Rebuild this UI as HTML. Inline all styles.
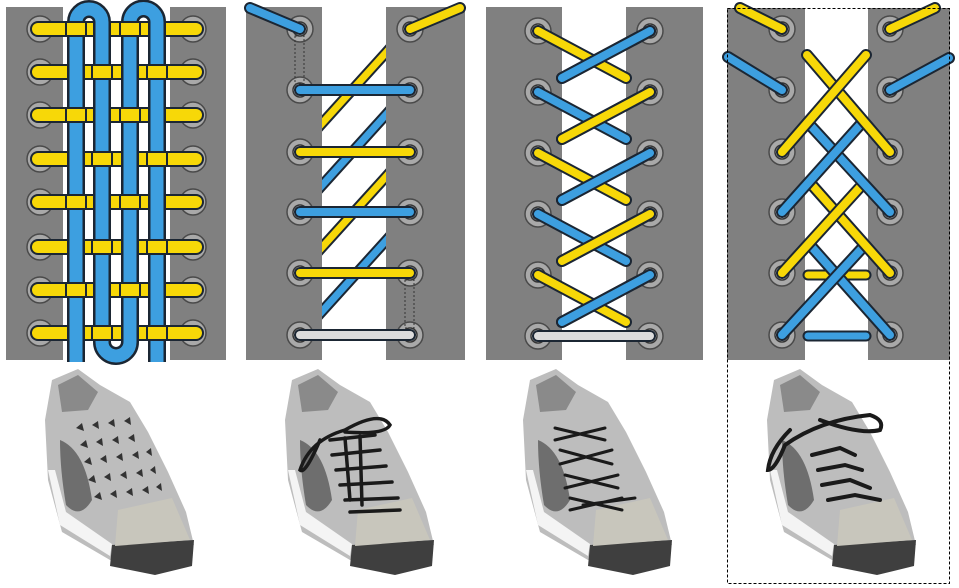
<!DOCTYPE html>
<html><head><meta charset="utf-8"><style>
html,body{margin:0;padding:0;background:#fff;width:959px;height:588px;overflow:hidden}
svg{display:block}
.o{stroke:#1b2633;stroke-linecap:round}
.y{stroke:#f7d808;stroke-linecap:round}
.b{stroke:#3d9fe0;stroke-linecap:round}
.g{stroke:#dcdcdc;stroke-linecap:round}
.k{stroke:#1a1a1a;stroke-linecap:round;fill:none}
</style></head><body>
<svg width="959" height="588" viewBox="0 0 959 588" xmlns="http://www.w3.org/2000/svg">
<defs>
<g id="e"><circle r="13" fill="#a9a9a9" stroke="#4a4a4a" stroke-width="1.5"/><circle r="7" fill="#e6e6e6" stroke="#333" stroke-width="1.5"/></g>
<g id="shoe">
<path d="M45,420 L52,380 L78,369 L100,385 L130,402 L148,432 L168,472 L186,512 L194,545 L150,560 L110,560 L62,532 L48,480 Z" fill="#bdbdbd"/>
<path d="M58,385 L78,375 L98,392 L88,410 L62,412 Z" fill="#8a8a8a"/>
<path d="M48,470 L60,525 L110,556 L112,544 L66,512 L55,470 Z" fill="#f4f4f4"/>
<path d="M60,440 Q85,450 92,500 Q80,520 66,505 Q60,470 60,440 Z" fill="#6e6e6e"/>
<path d="M112,545 L194,540 L192,566 L155,575 L110,566 Z" fill="#3f3f3f"/>
<path d="M118,510 L172,498 L190,540 L115,546 Z" fill="#c8c6bc"/>
</g>
</defs>

<!-- Panel 1 -->
<rect x="6" y="7" width="220" height="353" fill="#808080"/>
<rect x="63" y="7" width="107" height="353" fill="#fff"/>
<g>
<use href="#e" x="40" y="29"/><use href="#e" x="193" y="29"/>
<use href="#e" x="40" y="72"/><use href="#e" x="193" y="72"/>
<use href="#e" x="40" y="115"/><use href="#e" x="193" y="115"/>
<use href="#e" x="40" y="159"/><use href="#e" x="193" y="159"/>
<use href="#e" x="40" y="202"/><use href="#e" x="193" y="202"/>
<use href="#e" x="40" y="247"/><use href="#e" x="193" y="247"/>
<use href="#e" x="40" y="290"/><use href="#e" x="193" y="290"/>
<use href="#e" x="40" y="333"/><use href="#e" x="193" y="333"/>
</g>
<g stroke-width="16" class="o">
<line x1="38" y1="29" x2="196" y2="29"/><line x1="38" y1="72" x2="196" y2="72"/><line x1="38" y1="115" x2="196" y2="115"/><line x1="38" y1="159" x2="196" y2="159"/><line x1="38" y1="202" x2="196" y2="202"/><line x1="38" y1="247" x2="196" y2="247"/><line x1="38" y1="290" x2="196" y2="290"/><line x1="38" y1="333" x2="196" y2="333"/>
</g>
<g stroke-width="12" class="y">
<line x1="38" y1="29" x2="196" y2="29"/><line x1="38" y1="72" x2="196" y2="72"/><line x1="38" y1="115" x2="196" y2="115"/><line x1="38" y1="159" x2="196" y2="159"/><line x1="38" y1="202" x2="196" y2="202"/><line x1="38" y1="247" x2="196" y2="247"/><line x1="38" y1="290" x2="196" y2="290"/><line x1="38" y1="333" x2="196" y2="333"/>
</g>
<path d="M76,362 V22 A13,13 0 0 1 102,22 V342 A14,14 0 0 0 130,342 V22 A13.5,13.5 0 0 1 157,22 V362" fill="none" stroke="#1b2633" stroke-width="18"/>
<path d="M76,362 V22 A13,13 0 0 1 102,22 V342 A14,14 0 0 0 130,342 V22 A13.5,13.5 0 0 1 157,22 V362" fill="none" stroke="#3d9fe0" stroke-width="13"/>
<g>
<!-- yellow over segments -->
<g fill="#f7d808" stroke="#1b2633" stroke-width="2">
<rect x="66" y="22" width="20" height="14"/><rect x="120" y="22" width="20" height="14"/>
<rect x="92" y="65" width="20" height="14"/><rect x="147" y="65" width="20" height="14"/>
<rect x="66" y="108" width="20" height="14"/><rect x="120" y="108" width="20" height="14"/>
<rect x="92" y="152" width="20" height="14"/><rect x="147" y="152" width="20" height="14"/>
<rect x="66" y="195" width="20" height="14"/><rect x="120" y="195" width="20" height="14"/>
<rect x="92" y="240" width="20" height="14"/><rect x="147" y="240" width="20" height="14"/>
<rect x="66" y="283" width="20" height="14"/><rect x="120" y="283" width="20" height="14"/>
<rect x="92" y="326" width="20" height="14"/><rect x="147" y="326" width="20" height="14"/>
</g>
</g>

<!-- Panel 2 -->
<rect x="246" y="7" width="219" height="353" fill="#808080"/>
<rect x="322" y="7" width="64" height="353" fill="#fff"/>
<use href="#e" x="300" y="29"/><use href="#e" x="410" y="29"/>
<use href="#e" x="300" y="90"/><use href="#e" x="410" y="90"/>
<use href="#e" x="300" y="152"/><use href="#e" x="410" y="152"/>
<use href="#e" x="300" y="212"/><use href="#e" x="410" y="212"/>
<use href="#e" x="300" y="273"/><use href="#e" x="410" y="273"/>
<use href="#e" x="300" y="335"/><use href="#e" x="410" y="335"/>
<rect x="295" y="36" width="9" height="48" fill="none" stroke="#333" stroke-width="1" stroke-dasharray="2,2"/>
<rect x="405" y="280" width="9" height="48" fill="none" stroke="#333" stroke-width="1" stroke-dasharray="2,2"/>
<svg x="322" y="0" width="64" height="360" overflow="hidden">
<g transform="translate(-322,0)">
<line class="o" x1="316" y1="130" x2="392" y2="46" stroke-width="11" stroke-linecap="butt"/><line class="y" x1="316" y1="130" x2="392" y2="46" stroke-width="7" stroke-linecap="butt"/>
<line class="o" x1="316" y1="192" x2="392" y2="108" stroke-width="11" stroke-linecap="butt"/><line class="b" x1="316" y1="192" x2="392" y2="108" stroke-width="7" stroke-linecap="butt"/>
<line class="o" x1="316" y1="254" x2="392" y2="170" stroke-width="11" stroke-linecap="butt"/><line class="y" x1="316" y1="254" x2="392" y2="170" stroke-width="7" stroke-linecap="butt"/>
<line class="o" x1="316" y1="318" x2="392" y2="234" stroke-width="11" stroke-linecap="butt"/><line class="b" x1="316" y1="318" x2="392" y2="234" stroke-width="7" stroke-linecap="butt"/>
</g></svg>
<line class="o" x1="250" y1="8" x2="300" y2="29" stroke-width="12"/><line class="b" x1="250" y1="8" x2="300" y2="29" stroke-width="8"/>
<line class="o" x1="410" y1="29" x2="460" y2="8" stroke-width="12"/><line class="y" x1="410" y1="29" x2="460" y2="8" stroke-width="8"/>
<line class="o" x1="300" y1="90" x2="410" y2="90" stroke-width="12"/><line class="b" x1="300" y1="90" x2="410" y2="90" stroke-width="8"/>
<line class="o" x1="300" y1="152" x2="410" y2="152" stroke-width="12"/><line class="y" x1="300" y1="152" x2="410" y2="152" stroke-width="8"/>
<line class="o" x1="300" y1="212" x2="410" y2="212" stroke-width="12"/><line class="b" x1="300" y1="212" x2="410" y2="212" stroke-width="8"/>
<line class="o" x1="300" y1="273" x2="410" y2="273" stroke-width="12"/><line class="y" x1="300" y1="273" x2="410" y2="273" stroke-width="8"/>
<line class="o" x1="300" y1="335" x2="410" y2="335" stroke-width="12"/><line class="g" x1="300" y1="335" x2="410" y2="335" stroke-width="8"/>

<!-- Panel 3 -->
<rect x="486" y="7" width="217" height="353" fill="#808080"/>
<rect x="562" y="7" width="64" height="353" fill="#fff"/>
<use href="#e" x="538" y="31"/><use href="#e" x="650" y="31"/>
<use href="#e" x="538" y="92"/><use href="#e" x="650" y="92"/>
<use href="#e" x="538" y="153"/><use href="#e" x="650" y="153"/>
<use href="#e" x="538" y="214"/><use href="#e" x="650" y="214"/>
<use href="#e" x="538" y="275"/><use href="#e" x="650" y="275"/>
<use href="#e" x="650" y="336"/><use href="#e" x="538" y="336"/>
<g stroke-width="12" class="o">
<line x1="538" y1="31" x2="626" y2="78"/><line x1="650" y1="31" x2="562" y2="78"/>
<line x1="538" y1="92" x2="626" y2="139"/><line x1="650" y1="92" x2="562" y2="139"/>
<line x1="538" y1="153" x2="626" y2="200"/><line x1="650" y1="153" x2="562" y2="200"/>
<line x1="538" y1="214" x2="626" y2="261"/><line x1="650" y1="214" x2="562" y2="261"/>
<line x1="538" y1="275" x2="626" y2="322"/><line x1="650" y1="275" x2="562" y2="322"/>
<line x1="538" y1="336" x2="650" y2="336"/>
</g>
<line class="y" x1="538" y1="31" x2="626" y2="78" stroke-width="8"/><line class="o" x1="650" y1="31" x2="562" y2="78" stroke-width="12"/><line class="b" x1="650" y1="31" x2="562" y2="78" stroke-width="8"/>
<line class="b" x1="538" y1="92" x2="626" y2="139" stroke-width="8"/><line class="o" x1="650" y1="92" x2="562" y2="139" stroke-width="12"/><line class="y" x1="650" y1="92" x2="562" y2="139" stroke-width="8"/>
<line class="y" x1="538" y1="153" x2="626" y2="200" stroke-width="8"/><line class="o" x1="650" y1="153" x2="562" y2="200" stroke-width="12"/><line class="b" x1="650" y1="153" x2="562" y2="200" stroke-width="8"/>
<line class="b" x1="538" y1="214" x2="626" y2="261" stroke-width="8"/><line class="o" x1="650" y1="214" x2="562" y2="261" stroke-width="12"/><line class="y" x1="650" y1="214" x2="562" y2="261" stroke-width="8"/>
<line class="y" x1="538" y1="275" x2="626" y2="322" stroke-width="8"/><line class="o" x1="650" y1="275" x2="562" y2="322" stroke-width="12"/><line class="b" x1="650" y1="275" x2="562" y2="322" stroke-width="8"/>
<line class="g" x1="538" y1="336" x2="650" y2="336" stroke-width="8"/>

<!-- Panel 4 -->
<rect x="727" y="8" width="223" height="352" fill="#808080"/>
<rect x="805" y="8" width="63" height="352" fill="#fff"/>
<use href="#e" x="782" y="29"/><use href="#e" x="890" y="29"/>
<use href="#e" x="782" y="90"/><use href="#e" x="890" y="90"/>
<use href="#e" x="782" y="152"/><use href="#e" x="890" y="152"/>
<use href="#e" x="782" y="212"/><use href="#e" x="890" y="212"/>
<use href="#e" x="782" y="273"/><use href="#e" x="890" y="273"/>
<use href="#e" x="782" y="335"/><use href="#e" x="890" y="335"/>
<line class="o" x1="808" y1="275" x2="866" y2="275" stroke-width="11" stroke-linecap="butt"/><line class="y" x1="808" y1="275" x2="866" y2="275" stroke-width="7" stroke-linecap="butt"/>
<line class="o" x1="808" y1="336" x2="866" y2="336" stroke-width="11" stroke-linecap="butt"/><line class="b" x1="808" y1="336" x2="866" y2="336" stroke-width="7" stroke-linecap="butt"/>
<g stroke-width="12">
<line class="o" x1="740" y1="8" x2="782" y2="29"/><line class="y" x1="740" y1="8" x2="782" y2="29" stroke-width="8"/>
<line class="o" x1="890" y1="29" x2="935" y2="8"/><line class="y" x1="890" y1="29" x2="935" y2="8" stroke-width="8"/>
<line class="o" x1="728" y1="57" x2="782" y2="90"/><line class="b" x1="728" y1="57" x2="782" y2="90" stroke-width="8"/>
<line class="o" x1="890" y1="90" x2="949" y2="58"/><line class="b" x1="890" y1="90" x2="949" y2="58" stroke-width="8"/>
<line class="o" x1="810" y1="245" x2="890" y2="335"/><line class="b" x1="810" y1="245" x2="890" y2="335" stroke-width="8"/>
<line class="o" x1="865" y1="245" x2="782" y2="335"/><line class="b" x1="865" y1="245" x2="782" y2="335" stroke-width="8"/>
<line class="o" x1="812" y1="185" x2="890" y2="273"/><line class="y" x1="812" y1="185" x2="890" y2="273" stroke-width="8"/>
<line class="o" x1="862" y1="185" x2="782" y2="273"/><line class="y" x1="862" y1="185" x2="782" y2="273" stroke-width="8"/>
<line class="o" x1="810" y1="125" x2="890" y2="212"/><line class="b" x1="810" y1="125" x2="890" y2="212" stroke-width="8"/>
<line class="o" x1="860" y1="125" x2="782" y2="212"/><line class="b" x1="860" y1="125" x2="782" y2="212" stroke-width="8"/>
<line class="o" x1="807" y1="55" x2="890" y2="152"/><line class="y" x1="807" y1="55" x2="890" y2="152" stroke-width="8"/>
<line class="o" x1="866" y1="55" x2="782" y2="152"/><line class="y" x1="866" y1="55" x2="782" y2="152" stroke-width="8"/>
</g>

<!-- Shoes -->
<use href="#shoe" x="0" y="0"/>
<use href="#shoe" x="240" y="0"/>
<use href="#shoe" x="478" y="0"/>
<use href="#shoe" x="722" y="0"/>
<!-- shoe 1 checker -->
<g fill="#333">
<path d="M76,428 l6,-5 l2,8z M92,425 l6,-4 l1,8z M108,423 l6,-4 l1,8z M124,421 l6,-4 l1,8z"/>
<path d="M80,445 l6,-5 l2,8z M96,442 l6,-4 l1,8z M112,440 l6,-4 l1,8z M128,438 l6,-4 l1,8z"/>
<path d="M84,462 l6,-5 l2,8z M100,459 l6,-4 l1,8z M116,457 l6,-4 l1,8z M132,455 l6,-4 l1,8z M146,452 l5,-4 l1,8z"/>
<path d="M88,480 l6,-5 l2,8z M104,477 l6,-4 l1,8z M120,475 l6,-4 l1,8z M136,473 l6,-4 l1,8z M150,470 l5,-4 l1,8z"/>
<path d="M94,497 l6,-5 l2,8z M110,494 l6,-4 l1,8z M126,492 l6,-4 l1,8z M142,490 l6,-4 l1,8z M156,487 l5,-4 l1,8z"/>
</g>
<!-- shoe 2 laces -->
<g class="k" stroke-width="3.5">
<path d="M330,440 L375,435 M332,455 L380,450 M336,470 L386,466 M340,485 L392,482 M345,500 L398,498 M350,512 L400,510"/>
<path d="M345,438 L350,500 M360,436 L362,505"/>
<path d="M345,430 Q310,440 300,470 Q305,475 320,440 M345,430 Q380,410 390,425 Q385,435 345,432"/>
</g>
<!-- shoe 3 laces -->
<g class="k" stroke-width="3">
<path d="M555,428 L605,440 M555,440 L605,428 M560,450 L612,464 M560,464 L612,450 M565,475 L618,488 M565,488 L618,475 M570,498 L622,510 M570,510 L622,498 M583,505 L635,498"/>
</g>
<!-- shoe 4 laces -->
<g class="k" stroke-width="4">
<path d="M790,430 Q770,450 768,470 Q775,470 785,445 Q820,420 870,415 Q885,420 880,430 Q860,435 820,420"/>
<path d="M812,455 L840,448 L855,455 M818,470 L845,465 L862,470 M822,485 L850,480 L870,488 M828,500 L855,495 L880,500"/>
</g>
<!-- dashed border panel 4 -->
<rect x="727.5" y="8.5" width="222" height="575" fill="none" stroke="#000" stroke-width="1" stroke-dasharray="3,2"/>
</svg>
</body></html>
